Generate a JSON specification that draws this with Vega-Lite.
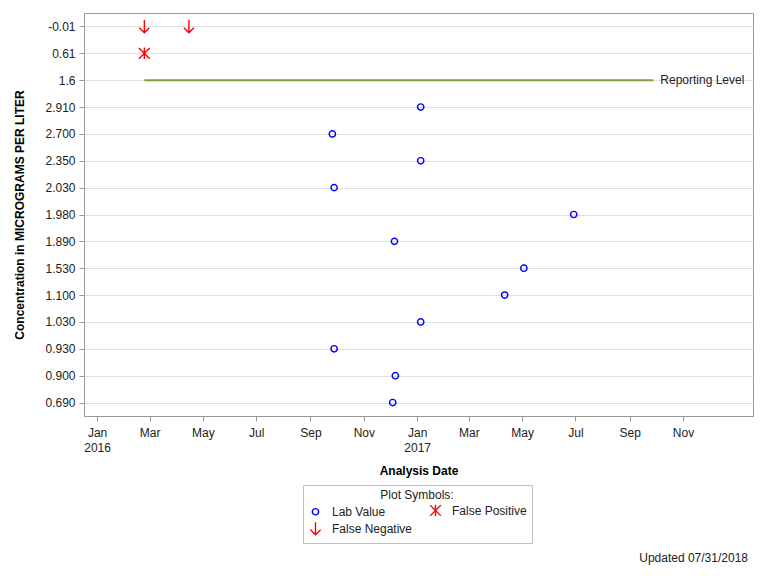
{
  "$schema": "https://vega.github.io/schema/vega-lite/v6.json",
  "width": 669,
  "height": 403,
  "autosize": "none",
  "padding": {"left": 84, "top": 13, "right": 15, "bottom": 160},
  "background": "white",
  "title": {
    "text": "Updated 07/31/2018",
    "orient": "bottom",
    "anchor": "end",
    "frame": "group",
    "fontSize": 12,
    "fontWeight": "normal",
    "font": "Liberation Sans",
    "color": "#222",
    "offset": 9,
    "dx": -5
  },
  "config": {
    "view": {"stroke": "#999", "strokeWidth": 1},
    "font": "Liberation Sans",
    "axis": {
      "labelFont": "Liberation Sans",
      "titleFont": "Liberation Sans",
      "labelFontSize": 12,
      "titleFontSize": 12,
      "labelColor": "#222",
      "titleColor": "#000",
      "tickColor": "#999",
      "tickSize": 5,
      "domain": false
    }
  },
  "datasets": {
    "points": [
      {"date": "2016-02-24", "value": "-0.01", "type": "False Negative"},
      {"date": "2016-04-15", "value": "-0.01", "type": "False Negative"},
      {"date": "2016-02-24", "value": "0.61", "type": "False Positive"},
      {"date": "2017-01-05", "value": "2.910", "type": "Lab Value"},
      {"date": "2016-09-26", "value": "2.700", "type": "Lab Value"},
      {"date": "2017-01-05", "value": "2.350", "type": "Lab Value"},
      {"date": "2016-09-28", "value": "2.030", "type": "Lab Value"},
      {"date": "2017-06-29", "value": "1.980", "type": "Lab Value"},
      {"date": "2016-12-06", "value": "1.890", "type": "Lab Value"},
      {"date": "2017-05-03", "value": "1.530", "type": "Lab Value"},
      {"date": "2017-04-11", "value": "1.100", "type": "Lab Value"},
      {"date": "2017-01-05", "value": "1.030", "type": "Lab Value"},
      {"date": "2016-09-28", "value": "0.930", "type": "Lab Value"},
      {"date": "2016-12-07", "value": "0.900", "type": "Lab Value"},
      {"date": "2016-12-04", "value": "0.690", "type": "Lab Value"}
    ],
    "reporting": [
      {"start": "2016-02-24", "end": "2017-09-28", "value": "1.6", "label": "Reporting Level"}
    ]
  },
  "encoding": {
    "y": {
      "field": "value",
      "type": "nominal",
      "scale": {
        "type": "point",
        "domain": ["-0.01", "0.61", "1.6", "2.910", "2.700", "2.350", "2.030", "1.980", "1.890", "1.530", "1.100", "1.030", "0.930", "0.900", "0.690"],
        "padding": 0.5
      },
      "axis": {
        "title": "Concentration in MICROGRAMS PER LITER",
        "titleFontWeight": "bold",
        "grid": true,
        "gridColor": "#e0e0e0",
        "labelPadding": 4,
        "titlePadding": 18
      }
    }
  },
  "layer": [
    {
      "data": {"name": "reporting"},
      "mark": {"type": "rule", "color": "#7f9f3f", "strokeWidth": 2},
      "encoding": {
        "x": {"field": "start", "type": "temporal"},
        "x2": {"field": "end"}
      }
    },
    {
      "data": {"name": "reporting"},
      "mark": {"type": "text", "align": "left", "baseline": "middle", "dx": 7, "fontSize": 12, "color": "#222", "font": "Liberation Sans"},
      "encoding": {
        "x": {"field": "end", "type": "temporal"},
        "text": {"field": "label"}
      }
    },
    {
      "data": {"name": "points"},
      "mark": {"type": "point", "filled": false, "strokeWidth": 1.4, "size": 160, "opacity": 1},
      "encoding": {
        "x": {
          "field": "date",
          "type": "temporal",
          "scale": {
            "type": "utc",
            "domain": [
              {"year": 2015, "month": 12, "date": 17, "utc": true},
              {"year": 2018, "month": 1, "date": 20, "utc": true}
            ],
            "nice": false
          },
          "axis": {
            "title": "Analysis Date",
            "titleFontWeight": "bold",
            "values": [
              {"year": 2016, "month": 1, "date": 1, "utc": true},
              {"year": 2016, "month": 3, "date": 1, "utc": true},
              {"year": 2016, "month": 5, "date": 1, "utc": true},
              {"year": 2016, "month": 7, "date": 1, "utc": true},
              {"year": 2016, "month": 9, "date": 1, "utc": true},
              {"year": 2016, "month": 11, "date": 1, "utc": true},
              {"year": 2017, "month": 1, "date": 1, "utc": true},
              {"year": 2017, "month": 3, "date": 1, "utc": true},
              {"year": 2017, "month": 5, "date": 1, "utc": true},
              {"year": 2017, "month": 7, "date": 1, "utc": true},
              {"year": 2017, "month": 9, "date": 1, "utc": true},
              {"year": 2017, "month": 11, "date": 1, "utc": true}
            ],
            "labelExpr": "[utcFormat(datum.value, '%b'), utcFormat(datum.value, '%m') == '01' ? utcFormat(datum.value, '%Y') : '']",
            "labelPadding": 6,
            "labelLineHeight": 15,
            "titlePadding": 12,
            "grid": false
          }
        },
        "color": {
          "field": "type",
          "type": "nominal",
          "scale": {
            "domain": ["Lab Value", "False Negative", "False Positive"],
            "range": ["#0000ff", "#ff0000", "#ff0000"]
          },
          "legend": {
            "title": "Plot Symbols:",
            "orient": "none",
            "legendX": 219,
            "legendY": 472,
            "columns": 2,
            "columnPadding": 14,
            "rowPadding": 0,
            "labelOffset": 9,
            "strokeColor": "#c0c0c0",
            "padding": 5,
            "titlePadding": 1,
            "titleAnchor": "middle",
            "titleFontWeight": "normal",
            "titleFontSize": 12,
            "titleFont": "Liberation Sans",
            "titleColor": "#222",
            "labelFontSize": 12,
            "labelFont": "Liberation Sans",
            "labelColor": "#222",
            "symbolSize": 160,
            "symbolStrokeWidth": 1.4
          }
        },
        "shape": {
          "field": "type",
          "type": "nominal",
          "scale": {
            "domain": ["Lab Value", "False Negative", "False Positive"],
            "range": [
              "M0.5,0A0.5,0.5 0 1,1 -0.5,0A0.5,0.5 0 1,1 0.5,0Z",
              "M0,-1L0,1M-0.8,0.2L0,1L0.8,0.2",
              "M-0.85,-0.85L0.85,0.85M0.85,-0.85L-0.85,0.85M0,-0.9L0,0.9"
            ]
          }
        }
      }
    }
  ]
}
